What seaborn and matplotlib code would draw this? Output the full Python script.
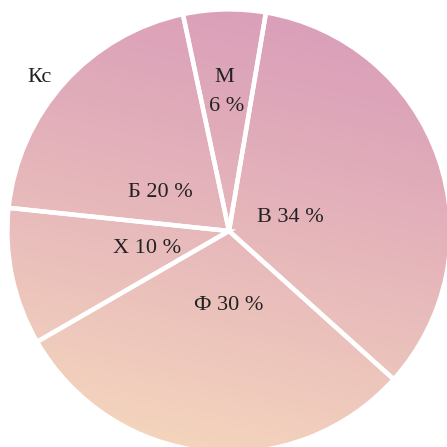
import numpy as np
import matplotlib
matplotlib.use("Agg")
import matplotlib.pyplot as plt
from matplotlib.patches import Circle
import seaborn as sns

# Shares of the categories (percent), clockwise from the top
categories = ["М", "В", "Ф", "Х", "Б"]
shares = [6, 34, 30, 10, 20]
extra_label = "Кс"

# Gradient end colours: pink at the top, peach at the bottom
top_color = "#dba0b9"
bottom_color = "#f4d4bd"

sns.set_theme(style="white")
plt.rcParams["font.family"] = ["Liberation Serif", "DejaVu Serif"]

fig = plt.figure(figsize=(4.47, 4.47), dpi=100)
ax = fig.add_axes([0, 0, 1, 1])

R = 1.012
wedges, _ = ax.pie(
    shares,
    startangle=102,
    counterclock=False,
    radius=R,
    wedgeprops=dict(facecolor="none", edgecolor="white", linewidth=3.2, zorder=3),
)

# Linear gradient fill clipped to the disc
cmap = sns.blend_palette([top_color, bottom_color], as_cmap=True)
n = 600
xs = np.linspace(-1.05, 1.05, n)
ys = np.linspace(-1.05, 1.05, n)
X, Y = np.meshgrid(xs, ys)
a = np.deg2rad(14)
T = -(X * np.sin(a) + Y * np.cos(a))
T = np.clip((T + 1.0) / 2.0, 0, 1) ** 1.15
img = ax.imshow(T, cmap=cmap, vmin=0, vmax=1, origin="lower",
                extent=(-1.05, 1.05, -1.05, 1.05), zorder=1, interpolation="bilinear")
img.set_clip_path(Circle((0, 0), R, transform=ax.transData))

ax.set_xlim(-1.0457, 0.9954)
ax.set_ylim(-0.9863, 1.0548)
ax.set_aspect("auto")
ax.axis("off")

# Labels
txt = dict(fontsize=16, color="#222222", ha="center", va="baseline", zorder=5)
ax.text(-0.023, 0.680, categories[0], **txt)
ax.text(-0.009, 0.548, f"{shares[0]} %", **txt)
ax.text(0.279, 0.041, f"{categories[1]} {shares[1]} %", **txt)
ax.text(0.0, -0.361, f"{categories[2]} {shares[2]} %", **txt)
ax.text(-0.374, -0.100, f"{categories[3]} {shares[3]} %", **txt)
ax.text(-0.313, 0.155, f"{categories[4]} {shares[4]} %", **txt)
ax.text(-0.865, 0.680, extra_label, **txt)

fig.savefig("out.png", dpi=100, facecolor="white")
